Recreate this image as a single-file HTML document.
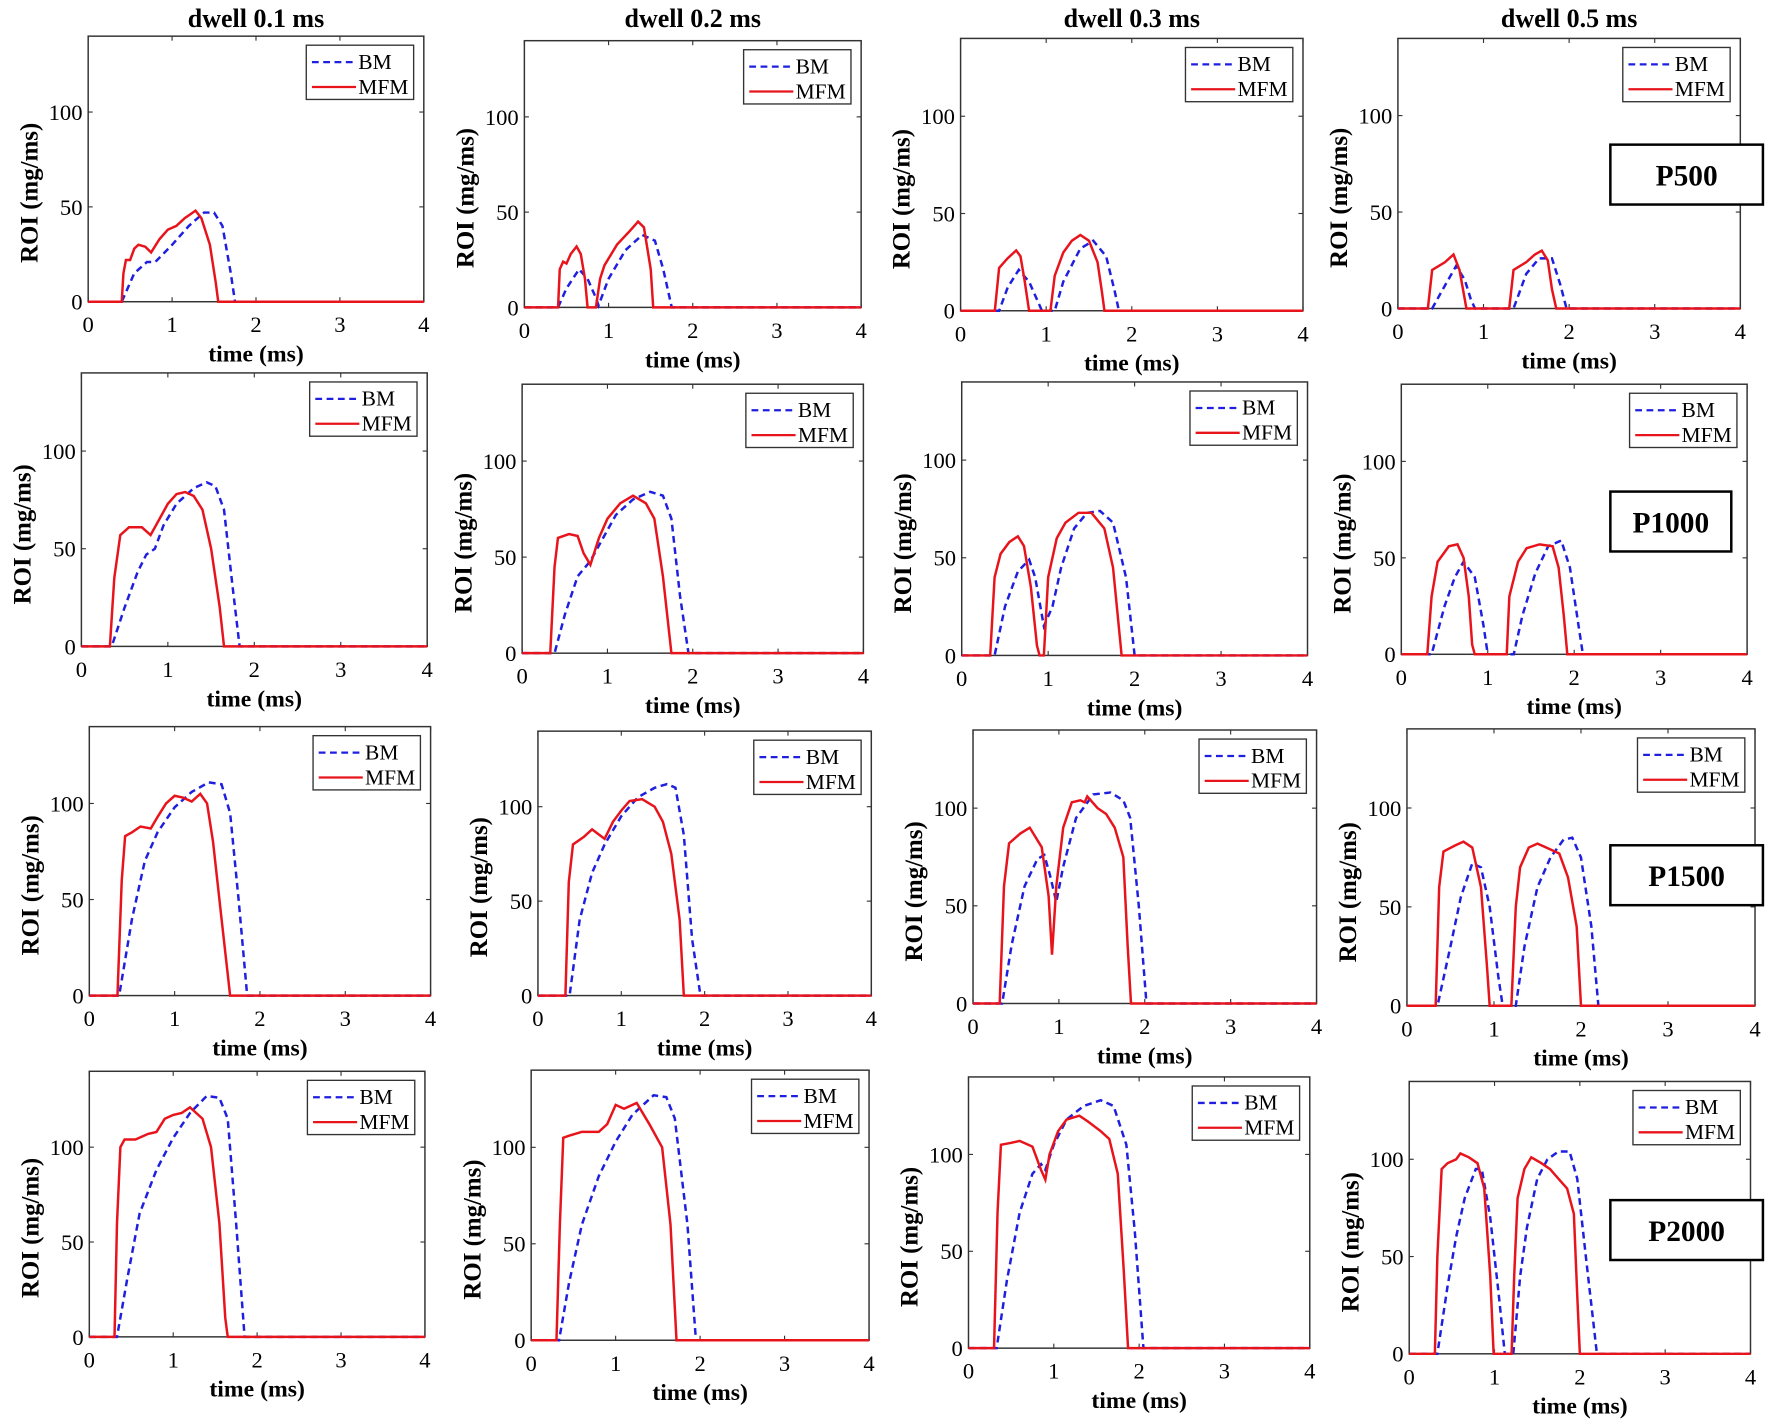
<!DOCTYPE html>
<html><head><meta charset="utf-8"><style>
html,body{margin:0;padding:0;background:#fff}
svg{display:block}
</style></head><body>
<svg id="s" width="1772" height="1425" viewBox="0 0 1568 1261" xmlns="http://www.w3.org/2000/svg" font-family="Liberation Serif, serif"></svg>
<script>
var P=[
[[78,375,32,267],[464,762,36,272],[850,1153,34,275],[1237,1540,34,273]],
[[72,378,330,572],[462,764,340,578],[851,1157,338,580],[1240,1546,340,579]],
[[79,381,643,881],[476,771,647,881],[861,1165,646,888],[1245,1553,645,890]],
[[79,376,948,1183],[470,769,947,1186],[857,1159,953,1193],[1247,1549,957,1198]]];
var D=[[
{m:[[0.4,0],[0.42,15],[0.45,22],[0.5,22],[0.55,28],[0.6,30],[0.68,29],[0.75,26],[0.85,33],[0.95,38],[1.05,40],[1.15,44],[1.28,48],[1.35,44],[1.45,30],[1.52,10],[1.55,0]],
 b:[[0.4,0],[0.55,15],[0.7,21],[0.8,21],[1.0,30],[1.2,40],[1.38,47],[1.5,47],[1.6,40],[1.7,15],[1.75,0]]},
{m:[[0.4,0],[0.42,20],[0.46,24],[0.5,23],[0.55,28],[0.62,32],[0.67,28],[0.72,15],[0.75,0],[0.85,0],[0.9,15],[0.95,22],[1.1,33],[1.25,40],[1.35,45],[1.42,42],[1.5,20],[1.53,0]],
 b:[[0.4,0],[0.5,10],[0.65,20],[0.75,15],[0.85,5],[0.88,1],[1.0,15],[1.2,30],[1.4,38],[1.55,35],[1.65,20],[1.75,0]]},
{m:[[0.4,0],[0.45,22],[0.55,27],[0.65,31],[0.7,28],[0.75,15],[0.8,0],[1.05,0],[1.1,18],[1.2,30],[1.3,36],[1.4,39],[1.5,36],[1.6,25],[1.65,10],[1.68,0]],
 b:[[0.45,0],[0.55,12],[0.68,21],[0.8,15],[0.9,5],[0.95,0],[1.1,0],[1.2,15],[1.4,32],[1.55,36],[1.7,28],[1.8,10],[1.85,0]]},
{m:[[0.35,0],[0.4,20],[0.55,24],[0.65,28],[0.72,20],[0.78,5],[0.8,0],[1.3,0],[1.35,20],[1.5,24],[1.6,28],[1.68,30],[1.75,25],[1.8,10],[1.85,0]],
 b:[[0.4,0],[0.55,12],[0.68,22],[0.78,15],[0.85,5],[0.9,0],[1.35,0],[1.5,18],[1.65,26],[1.8,26],[1.9,12],[1.97,0]]}
],[
{m:[[0.33,0],[0.38,35],[0.45,57],[0.55,61],[0.7,61],[0.8,57],[0.9,65],[1.0,73],[1.1,78],[1.2,79],[1.3,77],[1.4,70],[1.5,50],[1.6,20],[1.65,0]],
 b:[[0.35,0],[0.5,20],[0.65,38],[0.75,47],[0.85,50],[0.95,62],[1.1,73],[1.3,81],[1.45,84],[1.55,82],[1.65,70],[1.75,30],[1.83,0]]},
{m:[[0.33,0],[0.38,45],[0.42,60],[0.55,62],[0.65,61],[0.72,52],[0.8,46],[0.9,60],[1.0,70],[1.15,78],[1.3,82],[1.45,78],[1.55,70],[1.65,40],[1.75,0]],
 b:[[0.38,0],[0.5,20],[0.65,40],[0.8,48],[0.95,60],[1.1,72],[1.3,80],[1.5,84],[1.65,82],[1.75,70],[1.85,30],[1.95,0]]},
{m:[[0.33,0],[0.38,40],[0.45,52],[0.55,58],[0.65,61],[0.72,56],[0.8,35],[0.87,5],[0.9,0],[0.95,0],[1.0,40],[1.1,60],[1.2,68],[1.35,73],[1.5,73],[1.65,65],[1.75,45],[1.85,0]],
 b:[[0.38,0],[0.5,25],[0.65,43],[0.78,49],[0.85,40],[0.95,15],[1.05,25],[1.15,45],[1.3,65],[1.45,73],[1.6,74],[1.75,68],[1.9,40],[2.0,0]]},
{m:[[0.3,0],[0.35,30],[0.42,48],[0.55,56],[0.65,57],[0.72,50],[0.78,30],[0.82,5],[0.85,0],[1.22,0],[1.25,30],[1.35,48],[1.45,55],[1.6,57],[1.75,56],[1.82,45],[1.88,20],[1.92,0]],
 b:[[0.35,0],[0.5,25],[0.62,40],[0.72,48],[0.85,40],[0.95,15],[1.0,0],[1.3,0],[1.4,20],[1.55,42],[1.7,56],[1.85,59],[1.95,45],[2.05,15],[2.1,0]]}
],[
{m:[[0.33,0],[0.38,60],[0.42,83],[0.5,85],[0.6,88],[0.72,87],[0.8,93],[0.9,100],[1.0,104],[1.1,103],[1.2,101],[1.3,105],[1.38,100],[1.45,80],[1.55,40],[1.65,0]],
 b:[[0.35,0],[0.5,40],[0.65,70],[0.8,85],[1.0,98],[1.2,106],[1.4,111],[1.55,110],[1.65,95],[1.75,50],[1.85,0]]},
{m:[[0.33,0],[0.37,60],[0.42,80],[0.55,84],[0.65,88],[0.8,83],[0.9,92],[1.0,98],[1.1,103],[1.25,104],[1.4,100],[1.5,92],[1.6,75],[1.7,40],[1.75,0]],
 b:[[0.38,0],[0.5,40],[0.65,65],[0.8,80],[1.0,95],[1.2,105],[1.4,110],[1.55,112],[1.65,110],[1.75,85],[1.85,30],[1.95,0]]},
{m:[[0.31,0],[0.36,60],[0.42,82],[0.55,87],[0.66,90],[0.8,80],[0.88,55],[0.92,25],[0.97,60],[1.05,90],[1.15,103],[1.25,104],[1.3,103],[1.33,106],[1.45,100],[1.55,97],[1.65,90],[1.75,75],[1.8,30],[1.84,0]],
 b:[[0.34,0],[0.45,30],[0.6,60],[0.75,74],[0.83,76],[0.9,65],[0.97,52],[1.05,70],[1.2,95],[1.4,107],[1.6,108],[1.75,104],[1.83,95],[1.93,50],[2.02,0]]},
{m:[[0.33,0],[0.37,60],[0.42,78],[0.55,81],[0.65,83],[0.75,80],[0.85,60],[0.92,20],[0.95,0],[1.2,0],[1.25,50],[1.3,70],[1.4,80],[1.5,82],[1.6,80],[1.75,77],[1.85,65],[1.95,40],[2.0,0]],
 b:[[0.35,0],[0.5,30],[0.62,55],[0.75,72],[0.85,70],[0.95,50],[1.05,15],[1.1,0],[1.25,0],[1.35,30],[1.5,60],[1.65,75],[1.8,84],[1.9,85],[2.0,75],[2.12,40],[2.2,0]]}
],[
{m:[[0.3,0],[0.33,60],[0.37,100],[0.42,104],[0.55,104],[0.7,107],[0.8,108],[0.9,115],[1.0,117],[1.1,118],[1.2,121],[1.35,115],[1.45,100],[1.55,60],[1.62,10],[1.65,0]],
 b:[[0.33,0],[0.45,30],[0.6,65],[0.8,88],[1.0,105],[1.2,118],[1.4,127],[1.55,126],[1.65,115],[1.75,60],[1.85,0]]},
{m:[[0.3,0],[0.34,60],[0.38,105],[0.45,106],[0.6,108],[0.8,108],[0.9,112],[1.0,122],[1.1,120],[1.25,123],[1.4,112],[1.55,100],[1.65,60],[1.72,0]],
 b:[[0.33,0],[0.45,30],[0.6,60],[0.8,85],[1.0,103],[1.2,117],[1.45,127],[1.6,126],[1.7,115],[1.85,60],[1.95,0]]},
{m:[[0.3,0],[0.34,70],[0.38,105],[0.5,106],[0.6,107],[0.75,104],[0.85,92],[0.9,87],[0.95,100],[1.05,112],[1.15,118],[1.3,120],[1.4,117],[1.55,112],[1.65,108],[1.75,90],[1.82,40],[1.87,0]],
 b:[[0.33,0],[0.45,35],[0.6,70],[0.75,90],[0.85,95],[0.9,92],[1.0,105],[1.15,118],[1.35,125],[1.55,128],[1.7,125],[1.85,105],[1.95,60],[2.05,0]]},
{m:[[0.3,0],[0.33,50],[0.38,95],[0.45,98],[0.55,100],[0.6,103],[0.7,101],[0.8,98],[0.88,85],[0.95,40],[0.99,0],[1.2,0],[1.23,40],[1.27,80],[1.35,95],[1.43,101],[1.55,98],[1.65,95],[1.75,90],[1.85,85],[1.93,72],[1.97,30],[2.0,0]],
 b:[[0.33,0],[0.45,35],[0.55,60],[0.65,80],[0.78,95],[0.85,95],[0.95,70],[1.05,30],[1.12,0],[1.22,0],[1.3,40],[1.38,65],[1.5,90],[1.62,100],[1.75,104],[1.88,104],[1.97,90],[2.07,50],[2.2,0]]}
]];
var o='';
var titles=['dwell 0.1 ms','dwell 0.2 ms','dwell 0.3 ms','dwell 0.5 ms'];
for(var c=0;c<4;c++){var p=P[0][c];o+='<text x="'+((p[0]+p[1])/2)+'" y="24" font-size="23" font-weight="bold" text-anchor="middle">'+titles[c]+'</text>';}
for(var r=0;r<4;r++)for(var c=0;c<4;c++){
 var p=P[r][c],L=p[0],R=p[1],T=p[2],B=p[3];
 var X=function(t){return L+(R-L)*t/4},Y=function(v){return B-(B-T)*v/140};
 o+='<rect x="'+L+'" y="'+T+'" width="'+(R-L)+'" height="'+(B-T)+'" fill="#fff" stroke="#333" stroke-width="1.3"/>';
 for(var i=0;i<=4;i++){var x=X(i);
  o+='<line x1="'+x+'" y1="'+B+'" x2="'+x+'" y2="'+(B-4)+'" stroke="#333"/><line x1="'+x+'" y1="'+T+'" x2="'+x+'" y2="'+(T+4)+'" stroke="#333"/>';
  o+='<text x="'+x+'" y="'+(B+27)+'" font-size="20" text-anchor="middle">'+i+'</text>';}
 [0,50,100].forEach(function(v){var y=Y(v);
  o+='<line x1="'+L+'" y1="'+y+'" x2="'+(L+4)+'" y2="'+y+'" stroke="#333"/><line x1="'+R+'" y1="'+y+'" x2="'+(R-4)+'" y2="'+y+'" stroke="#333"/>';
  o+='<text x="'+(L-5)+'" y="'+(y+7)+'" font-size="20" text-anchor="end">'+v+'</text>';});
 o+='<text x="'+((L+R)/2)+'" y="'+(B+53)+'" font-size="21" font-weight="bold" text-anchor="middle">time (ms)</text>';
 var ly=B-(B-T)*0.41;
 o+='<text transform="translate('+(L-45)+','+ly+') rotate(-90)" font-size="22" font-weight="bold" text-anchor="middle">ROI (mg/ms)</text>';
 var d=D[r][c];
 function path(a){var s='M'+X(0)+','+Y(0);a.forEach(function(q){s+=' L'+X(q[0]).toFixed(1)+','+Y(q[1]).toFixed(1)});s+=' L'+X(4)+','+Y(0);return s;}
 o+='<path d="'+path(d.b)+'" fill="none" stroke="#1f1fe0" stroke-width="2.2" stroke-dasharray="6,4"/>';
 o+='<path d="'+path(d.m)+'" fill="none" stroke="#e8141c" stroke-width="2.2"/>';
 var lx=R-104,lt=T+8;
 o+='<rect x="'+lx+'" y="'+lt+'" width="95" height="48" fill="#fff" stroke="#333" stroke-width="1.2"/>';
 o+='<line x1="'+(lx+5)+'" y1="'+(lt+15)+'" x2="'+(lx+44)+'" y2="'+(lt+15)+'" stroke="#1f1fe0" stroke-width="2" stroke-dasharray="6,4"/>';
 o+='<text x="'+(lx+46)+'" y="'+(lt+21)+'" font-size="19">BM</text>';
 o+='<line x1="'+(lx+5)+'" y1="'+(lt+37)+'" x2="'+(lx+44)+'" y2="'+(lt+37)+'" stroke="#e8141c" stroke-width="2"/>';
 o+='<text x="'+(lx+46)+'" y="'+(lt+43)+'" font-size="19">MFM</text>';
}
var lab=[['P500',1425,128,135,53],['P1000',1425,435,107,53],['P1500',1425,748,135,53],['P2000',1425,1062,135,53]];
lab.forEach(function(a){o+='<rect x="'+a[1]+'" y="'+a[2]+'" width="'+a[3]+'" height="'+a[4]+'" fill="#fff" stroke="#000" stroke-width="2.2"/>';
 o+='<text x="'+(a[1]+a[3]/2)+'" y="'+(a[2]+36)+'" font-size="26" font-weight="bold" text-anchor="middle">'+a[0]+'</text>';});
document.getElementById('s').innerHTML=o;
</script>
</body></html>
